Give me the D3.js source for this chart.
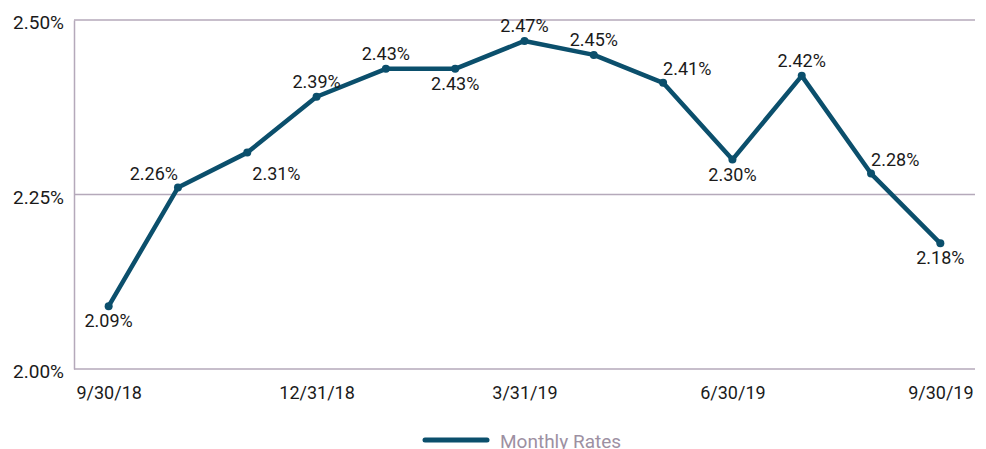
<!DOCTYPE html>
<html>
<head>
<meta charset="utf-8">
<script src="https://cdn.jsdelivr.net/npm/d3@7"></script>
<style>
  body { margin: 0; background: #fff; }
  svg text { font-family: Roboto, "Open Sans", sans-serif; }
</style>
</head>
<body>
<div id="chart"></div>
<script>
// monthly rates, 9/30/18 -> 9/30/19
var months = ["9/30/18", "10/31/18", "11/30/18", "12/31/18", "1/31/19", "2/28/19",
  "3/31/19", "4/30/19", "5/31/19", "6/30/19", "7/31/19", "8/31/19", "9/30/19"];
var rates = [2.09, 2.26, 2.31, 2.39, 2.43, 2.43, 2.47, 2.45, 2.41, 2.30, 2.42, 2.28, 2.18];
var xTickLabels = ["9/30/18", "12/31/18", "3/31/19", "6/30/19", "9/30/19"];
var yTicks = [2.00, 2.25, 2.50];
var seriesName = "Monthly Rates";
// where each value label sits relative to its point
var labelPlacement = ["below", "aboveLeft", "belowRight", "above", "above", "below",
  "above", "above", "aboveRight", "below", "above", "aboveRight", "below"];

var width = 986, height = 449;
var margin = {top: 20, right: 11, bottom: 80, left: 74};
var lineColor = "#0b4f6c";
var gridColor = "#b5a9ba";

var svg = d3.select("#chart").append("svg")
  .attr("width", width).attr("height", height);

var x = d3.scalePoint()
  .domain(months)
  .range([margin.left, width - margin.right])
  .padding(0.5);

var y = d3.scaleLinear()
  .domain([2.00, 2.50])
  .range([height - margin.bottom, margin.top]);

// grid lines
svg.append("g").selectAll("line")
  .data(yTicks.filter(d => d > 2.00))
  .enter().append("line")
  .attr("x1", margin.left).attr("x2", width - margin.right)
  .attr("y1", d => y(d)).attr("y2", d => y(d))
  .attr("stroke", gridColor).attr("stroke-width", 1.5);

// y axis
var yAxis = svg.append("g")
  .attr("transform", "translate(" + margin.left + ",0)")
  .call(d3.axisLeft(y).tickValues(yTicks).tickSize(0).tickPadding(10)
    .tickFormat(d => d3.format(".2f")(d) + "%"));
yAxis.select(".domain").attr("stroke", gridColor).attr("stroke-width", 1.5);
yAxis.selectAll("text").attr("font-size", 19).attr("fill", "#1a1a1a").attr("dy", "0.45em");

// x axis
var xAxis = svg.append("g")
  .attr("transform", "translate(0," + (height - margin.bottom) + ")")
  .call(d3.axisBottom(x).tickValues(xTickLabels).tickSize(0).tickPadding(17));
xAxis.select(".domain").attr("stroke", gridColor).attr("stroke-width", 1.5)
  .attr("d", "M" + margin.left + ",0H" + (width - margin.right));
xAxis.selectAll("text").attr("font-size", 18).attr("fill", "#1a1a1a");

// line
var line = d3.line()
  .x((d, i) => x(months[i]))
  .y(d => y(d));

svg.append("path")
  .datum(rates)
  .attr("fill", "none")
  .attr("stroke", lineColor)
  .attr("stroke-width", 4.5)
  .attr("stroke-linejoin", "round")
  .attr("d", line);

svg.append("g").selectAll("circle")
  .data(rates)
  .enter().append("circle")
  .attr("cx", (d, i) => x(months[i]))
  .attr("cy", d => y(d))
  .attr("r", 4)
  .attr("fill", lineColor);

// value labels
var place = {
  above:      {anchor: "middle", dx: 0,  dy: -9},
  below:      {anchor: "middle", dx: 0,  dy: 21},
  aboveLeft:  {anchor: "end",    dx: 0,  dy: -8},
  aboveRight: {anchor: "start",  dx: 0,  dy: -8},
  belowRight: {anchor: "start",  dx: 5,  dy: 27}
};

svg.append("g").selectAll("text")
  .data(rates)
  .enter().append("text")
  .attr("x", (d, i) => x(months[i]) + place[labelPlacement[i]].dx)
  .attr("y", (d, i) => y(d) + place[labelPlacement[i]].dy)
  .attr("text-anchor", (d, i) => place[labelPlacement[i]].anchor)
  .attr("font-size", 18)
  .attr("fill", "#1a1a1a")
  .text(d => d3.format(".2f")(d) + "%");

// legend
var legend = svg.append("g").attr("transform", "translate(425,440)");
legend.append("line")
  .attr("x1", 0).attr("x2", 62)
  .attr("stroke", lineColor).attr("stroke-width", 5)
  .attr("stroke-linecap", "round");
legend.append("text")
  .attr("x", 75).attr("y", 8)
  .attr("font-size", 19)
  .attr("fill", "#9d90a2")
  .text(seriesName);
</script>
</body>
</html>
